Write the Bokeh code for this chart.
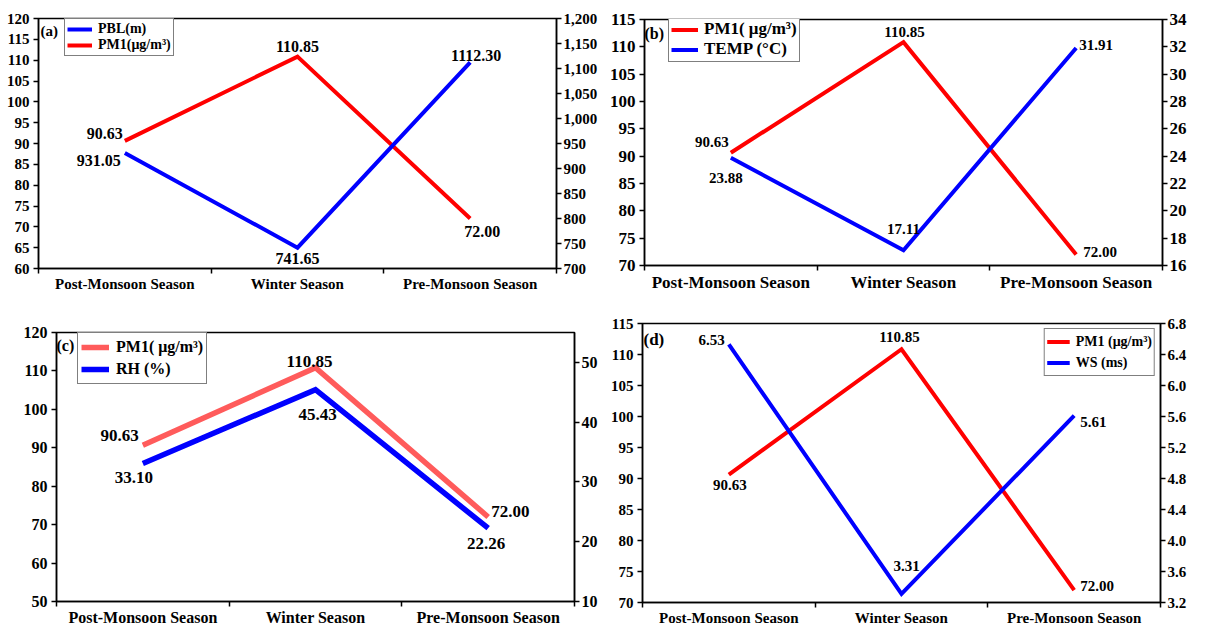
from bokeh.plotting import figure
from bokeh.models import (Range1d, LinearAxis, FixedTicker, NumeralTickFormatter,
                          Legend, LegendItem, Label, LabelSet, ColumnDataSource)
from bokeh.layouts import column, row
from bokeh.core.properties import value, field
from bokeh.embed import file_html
from bokeh.resources import INLINE

# ---------------- data ----------------
SEASONS = ["Post-Monsoon Season", "Winter Season", "Pre-Monsoon Season"]
PM1 = [90.63, 110.85, 72.00]
PBL = [931.05, 741.65, 1112.30]
TEMP = [23.88, 17.11, 31.91]
RH = [33.10, 45.43, 22.26]
WS = [6.53, 3.31, 5.61]

PM1_TICKS_A = [60, 65, 70, 75, 80, 85, 90, 95, 100, 105, 110, 115, 120]
PBL_TICKS = [700, 750, 800, 850, 900, 950, 1000, 1050, 1100, 1150, 1200]
PM1_TICKS_B = [70, 75, 80, 85, 90, 95, 100, 105, 110, 115]
TEMP_TICKS = [16, 18, 20, 22, 24, 26, 28, 30, 32, 34]
PM1_TICKS_C = [50, 60, 70, 80, 90, 100, 110, 120]
RH_TICKS = [10, 20, 30, 40, 50]
PM1_TICKS_D = [70, 75, 80, 85, 90, 95, 100, 105, 110, 115]
WS_TICKS = [3.2, 3.6, 4.0, 4.4, 4.8, 5.2, 5.6, 6.0, 6.4, 6.8]

FONT = "Liberation Serif"
RED = "#FF0000"
BLUE = "#0000FF"
PINK = "#FF5B5B"

X = [i + 0.5 for i in range(len(SEASONS))]
BOUNDS = [i for i in range(len(SEASONS) + 1)]


def make_panel(w, h, mb, lrange, lticks, rrange, rticks, rfmt, fs_tick, fs_xlab):
    p = figure(width=w, height=h, output_backend="svg", toolbar_location=None,
               x_range=Range1d(0, len(SEASONS)), y_range=Range1d(*lrange),
               min_border_left=mb[0], min_border_right=mb[1],
               min_border_top=mb[2], min_border_bottom=mb[3],
               background_fill_color="white", border_fill_color="white")
    p.grid.visible = False
    p.outline_line_color = "black"
    p.outline_line_width = 1.5
    p.extra_y_ranges = {"r": Range1d(*rrange)}
    rax = LinearAxis(y_range_name="r")
    p.add_layout(rax, "right")
    for ax in p.xaxis + p.yaxis + [rax]:
        ax.axis_line_color = "black"
        ax.axis_line_width = 1.5
        ax.major_tick_line_color = "black"
        ax.major_tick_line_width = 1.5
        ax.major_tick_out = 5
        ax.major_tick_in = 0
        ax.minor_tick_line_color = None
        ax.major_label_text_font = FONT
        ax.major_label_text_font_style = "bold"
        ax.major_label_text_color = "black"
        ax.major_label_text_font_size = fs_tick
        ax.major_label_standoff = 4
    p.yaxis[0].ticker = FixedTicker(ticks=lticks, minor_ticks=[])
    rax.ticker = FixedTicker(ticks=rticks, minor_ticks=[])
    rax.formatter = NumeralTickFormatter(format=rfmt)
    rax.major_label_standoff = 2
    xa = p.xaxis[0]
    xa.ticker = FixedTicker(ticks=X, minor_ticks=BOUNDS)
    xa.major_tick_out = 0
    xa.minor_tick_out = 5
    xa.minor_tick_in = 0
    xa.minor_tick_line_color = "black"
    xa.minor_tick_line_width = 1.5
    xa.major_label_overrides = {x: s for x, s in zip(X, SEASONS)}
    xa.major_label_text_font_size = fs_xlab
    xa.major_label_standoff = 2
    return p


def add_values(p, ys, aligns, dxs, dys, fs, right=False):
    src = ColumnDataSource(dict(x=X, y=ys, text=["%.2f" % v for v in ys],
                                dx=dxs, dy=dys, al=aligns))
    kw = dict(y_range_name="r") if right else {}
    ls = LabelSet(x="x", y="y", text="text", source=src, x_offset=field("dx"),
                  y_offset=field("dy"), text_align=field("al"), text_baseline="middle",
                  text_font=value(FONT), text_font_style="bold", text_font_size=value(fs),
                  text_color="black", **kw)
    p.add_layout(ls)


def add_tag(p, txt, y, dx, dy, fs):
    p.add_layout(Label(x=0, y=y, text=txt, x_offset=dx, y_offset=dy, text_align="left",
                       text_baseline="top", text_font=FONT, text_font_style="bold",
                       text_font_size=fs, text_color="black"))


def add_legend(p, items, loc, fs, gw, gh, pad, spacing, standoff, margin=0):
    lg = Legend(items=[LegendItem(label=l, renderers=[r]) for l, r in items],
                location=loc, label_text_font=FONT, label_text_font_style="bold",
                label_text_font_size=fs, label_text_color="black",
                glyph_width=gw, glyph_height=gh, label_height=gh, padding=pad,
                spacing=spacing, label_standoff=standoff, margin=margin,
                border_line_color="black", border_line_width=1.5,
                background_fill_color="white", background_fill_alpha=1.0)
    p.add_layout(lg)


# ---------------- (a) ----------------  frame 250 high
pa = make_panel(600, 294, (38, 42, 18, 26), (60, 120), PM1_TICKS_A, (700, 1200), PBL_TICKS,
                "0,0", "15px", "15px")
ra1 = pa.line(X, PM1, line_color=RED, line_width=4, line_join="miter")
ra2 = pa.line(X, PBL, line_color=BLUE, line_width=4, line_join="miter", y_range_name="r")
add_values(pa, PM1, ["right", "center", "center"], [-2, 0, 12], [7, 10, -13], "16px")
add_values(pa, PBL, ["right", "center", "center"], [-4, 0, 6], [-8, -11, 7], "16px", right=True)
add_tag(pa, "(a)", 120, 2, -4, "15px")
add_legend(pa, [("PBL(m)", ra2), ("PM1(μg/m³)", ra1)], (26, 212), "14px", 25, 16, 2, 0, 6)

# ---------------- (b) ----------------  frame 248 high
pb = make_panel(589, 294, (44, 25, 19, 27), (70, 115), PM1_TICKS_B, (16, 34), TEMP_TICKS,
                "0", "17px", "17px")
rb1 = pb.line(X, PM1, line_color=RED, line_width=4, line_join="miter")
rb2 = pb.line(X, TEMP, line_color=BLUE, line_width=4, line_join="miter", y_range_name="r")
add_values(pb, PM1, ["right", "center", "left"], [-2, 1, 7], [11, 10, 3], "15px")
add_values(pb, TEMP, ["center", "center", "left"], [-5, 0, 3], [-20, 21, 3], "15px", right=True)
add_tag(pb, "(b)", 115, 0, -5, "16px")
add_legend(pb, [("PM1( μg/m³)", rb1), ("TEMP (°C)", rb2)], (24, 203), "17px", 27, 19, 2, 0, 6)

# ---------------- (c) ----------------  frame 270 high
pc = make_panel(600, 334, (56, 24, 38, 26), (50, 120), PM1_TICKS_C, (10, 55), RH_TICKS,
                "0", "16px", "16px")
rc1 = pc.line(X, PM1, line_color=PINK, line_width=5.5, line_join="miter")
rc2 = pc.line(X, RH, line_color=BLUE, line_width=5.5, line_join="miter", y_range_name="r")
add_values(pc, PM1, ["right", "center", "left"], [-4, -6, 3], [10, 6, 5], "17px")
add_values(pc, RH, ["center", "center", "center"], [-9, 2, -2], [-14, -25, -15], "17px", right=True)
add_tag(pc, "(c)", 120, 0, -4, "16px")
add_legend(pc, [("PM1( μg/m³)", rc1), ("RH (%)", rc2)], (21, 217), "16px", 28, 22, 3, 0, 7)

# ---------------- (d) ----------------  frame 279 high
pd_ = make_panel(589, 334, (42, 25, 29, 26), (70, 115), PM1_TICKS_D, (3.2, 6.8), WS_TICKS,
                 "0.0", "15px", "15px")
rd1 = pd_.line(X, PM1, line_color=RED, line_width=4, line_join="miter")
rd2 = pd_.line(X, WS, line_color=BLUE, line_width=4, line_join="miter", y_range_name="r")
add_values(pd_, PM1, ["center", "center", "left"], [1, -2, 6], [-10, 12, 4], "15px")
add_values(pd_, WS, ["right", "center", "left"], [-4, 5, 6], [4, 28, -6], "15px", right=True)
add_tag(pd_, "(d)", 115, 1, -6, "17px")
add_legend(pd_, [("PM1 (μg/m³)", rd1), ("WS (ms)", rd2)], "top_right", "14px", 23, 21, 2, 0, 6,
           margin=5)

layout = column(row(column(pa), column(pb)), row(column(pc), column(pd_)))
open("out.html", "w").write(file_html(layout, INLINE))
